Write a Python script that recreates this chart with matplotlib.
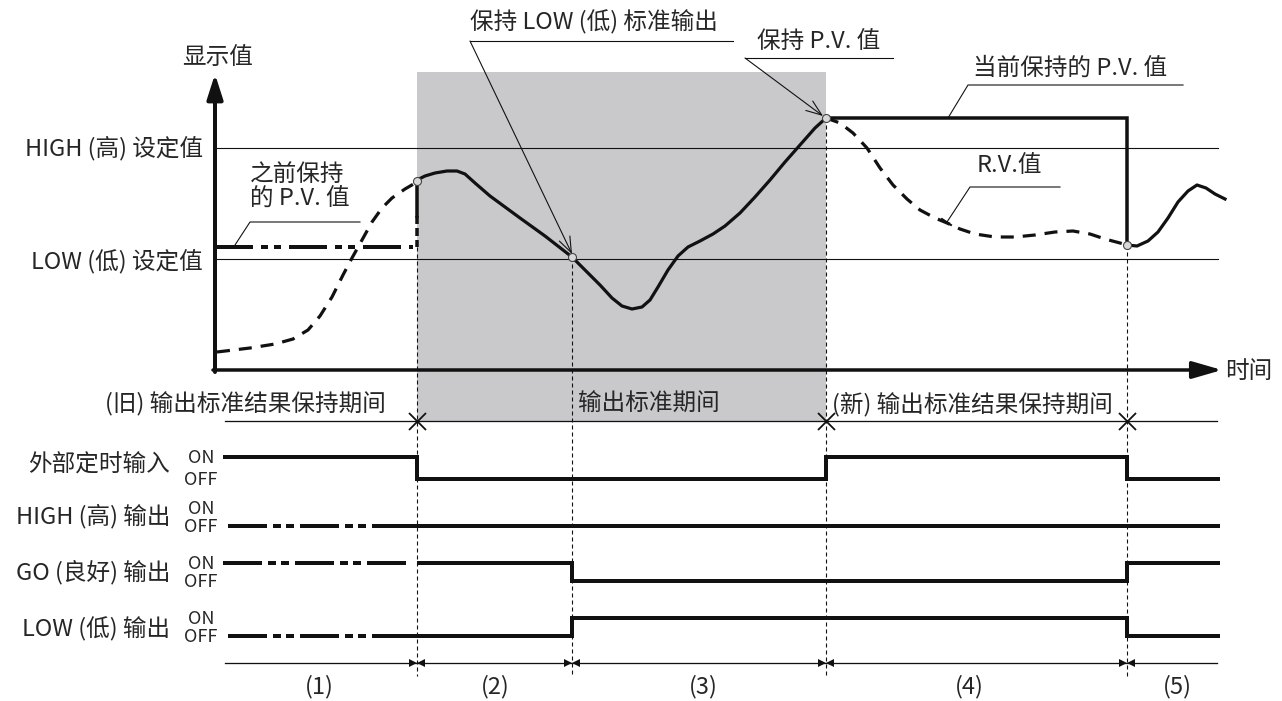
import matplotlib
matplotlib.use("Agg")
import matplotlib.pyplot as plt
from matplotlib.patches import Rectangle

plt.rcParams['font.family'] = ['Noto Sans CJK SC', 'DejaVu Sans']
plt.rcParams['lines.scale_dashes'] = False

# ---------------- data (drawing units = reference pixels) ----------------
EDGES = [417, 572, 826, 1127]          # timing boundaries
X_LEFT, X_RIGHT = 223, 1220
AXIS_X, AXIS_Y = 215, 370
HIGH_SET_Y, LOW_SET_Y = 148, 259
HELD_PREV_Y = 247
HELD_NOW_Y = 118

rv_before_x = [217, 250, 275, 293, 308, 320, 332, 343, 352, 362, 372, 382, 392, 405, 417]
rv_before_y = [352, 348, 344, 339, 330, 316, 297, 275, 258, 240, 222, 208, 198, 189, 182]

pv_x = [417, 425, 435, 447, 457, 465, 475, 490, 505, 520, 545, 572, 585, 600, 612, 622,
        632, 642, 650, 658, 668, 678, 688, 700, 713, 725, 740, 755, 770, 785, 800, 815, 826]
pv_y = [180, 176, 173, 171, 171, 174, 183, 196, 207, 218, 236, 257, 270, 285, 298, 306,
        309, 307, 300, 287, 270, 256, 247, 241, 234, 226, 213, 197, 180, 162, 145, 128, 118]

rv_after_x = [826, 840, 853, 867, 880, 893, 907, 920, 935, 947, 960, 975, 995, 1015, 1035,
              1055, 1073, 1090, 1105, 1120, 1127]
rv_after_y = [118, 123, 133, 148, 168, 185, 199, 210, 218, 223, 229, 234, 237, 237, 235,
              232, 231, 234, 239, 243, 245]

pv_final_x = [1127, 1137, 1148, 1158, 1168, 1178, 1188, 1197, 1206, 1215, 1225]
pv_final_y = [245, 246, 241, 232, 218, 202, 191, 185, 188, 194, 199]

hold_points_x = [417, 572, 826, 1127]
hold_points_y = [181, 257, 118, 245]

row_labels = ['外部定时输入', 'HIGH (高) 输出', 'GO (良好) 输出', 'LOW (低) 输出']
row_label_y = [465, 516, 572, 629]
row_on_y = [457, 508, 563, 618]
row_off_y = [479, 526, 581, 636]
row_states = [[1, 0, 0, 1, 0],
              [0, 0, 0, 0, 0],
              [1, 1, 0, 0, 1],
              [0, 0, 1, 1, 0]]
row_unknown_start = [None, 228, 223, 228]
row_unknown_end = [None, 372, 412, 372]

period_labels = ['(1)', '(2)', '(3)', '(4)', '(5)']
period_label_x = [319, 495, 703, 969, 1177]

phase_labels = ['(旧) 输出标准结果保持期间', '输出标准期间', '(新) 输出标准结果保持期间']

TXT = '#262626'
INK = '#111111'
GRAY = '#c9c9cb'

def px(v):
    return v * 0.72

fig = plt.figure(figsize=(12.82, 7.01), dpi=100)
ax = fig.add_axes([0, 0, 1, 1])
ax.set_xlim(0, 1282)
ax.set_ylim(701, 0)
ax.axis('off')

# gray output-judgement period
ax.add_patch(Rectangle((EDGES[0], 72), EDGES[2] - EDGES[0], 421 - 72,
                       facecolor=GRAY, edgecolor='none', zorder=0))

# set-value lines
ax.plot([AXIS_X, 1218], [HIGH_SET_Y, HIGH_SET_Y], color=INK, lw=px(1.1), zorder=2)
ax.plot([AXIS_X, 1218], [LOW_SET_Y, LOW_SET_Y], color=INK, lw=px(1.1), zorder=2)

# axes with arrows
ax.annotate('', xy=(AXIS_X, 74), xytext=(AXIS_X, AXIS_Y + 2),
            arrowprops=dict(arrowstyle='-|>,head_length=0.75,head_width=0.24', lw=px(4),
                            color=INK, mutation_scale=20, shrinkA=0, shrinkB=0), zorder=5)
ax.annotate('', xy=(1222, AXIS_Y), xytext=(AXIS_X - 2, AXIS_Y),
            arrowprops=dict(arrowstyle='-|>,head_length=0.9,head_width=0.26', lw=px(3.5),
                            color=INK, mutation_scale=20, shrinkA=0, shrinkB=0), zorder=5)

# vertical dotted boundary lines
tops = [HELD_PREV_Y, hold_points_y[1], hold_points_y[2], hold_points_y[3]]
for x, t in zip(EDGES, tops):
    ax.plot([x, x], [t, 676], color=INK, lw=px(1.1), dashes=(px(4), px(3)), zorder=3)

# R.V. dashed curves
ax.plot(rv_before_x, rv_before_y, color=INK, lw=px(3.2), dashes=(px(13), px(9)), zorder=4)
ax.plot(rv_after_x, rv_after_y, color=INK, lw=px(3.2), dashes=(px(13), px(9)), zorder=4)

# P.V. solid curves
ax.plot(pv_x, pv_y, color=INK, lw=px(3.2), zorder=4, solid_joinstyle='round')
ax.plot(pv_final_x, pv_final_y, color=INK, lw=px(3.2), zorder=4, solid_joinstyle='round')

# previously held P.V. (dash-dot-dot) and jump
ax.plot([AXIS_X, 413], [HELD_PREV_Y, HELD_PREV_Y], color=INK, lw=px(4),
        dashes=(px(38), px(8), px(7), px(6), px(7), px(8)), zorder=4)
ax.plot([EDGES[0], EDGES[0]], [hold_points_y[0], 216], color=INK, lw=px(3.5), zorder=4)
ax.plot([EDGES[0], EDGES[0]], [216, HELD_PREV_Y], color=INK, lw=px(3.5),
        dashes=(px(8), px(4)), zorder=4)

# currently held P.V.
ax.plot([EDGES[2], EDGES[3], EDGES[3]], [HELD_NOW_Y, HELD_NOW_Y, hold_points_y[3]],
        color=INK, lw=px(3.5), zorder=4, solid_joinstyle='miter')

# hold point circles
ax.plot(hold_points_x, hold_points_y, 'o', ms=px(8), mfc='#d8d8d8', mec='#444444',
        mew=px(1.1), zorder=6)

# annotation leaders
ax.plot([235, 250, 360], [245, 222, 222], color=INK, lw=px(1.1), zorder=5)
ax.plot([948, 968, 1183], [118, 85, 85], color=INK, lw=px(1.1), zorder=5)
ax.plot([947, 970, 1060], [222, 187, 187], color=INK, lw=px(1.1), zorder=5)
ax.plot([942, 951], [219, 225], color=INK, lw=px(2), zorder=5)
ax.plot([470, 733], [41, 41], color=INK, lw=px(1.1), zorder=5)
ax.plot([745, 893], [58, 58], color=INK, lw=px(1.1), zorder=5)
ax.annotate('', xy=(572, 254), xytext=(470, 41),
            arrowprops=dict(arrowstyle='->,head_length=0.8,head_width=0.3', lw=px(1.1),
                            color=INK, mutation_scale=14, shrinkA=0, shrinkB=0), zorder=6)
ax.annotate('', xy=(823, 116), xytext=(745, 58),
            arrowprops=dict(arrowstyle='->,head_length=0.8,head_width=0.3', lw=px(1.1),
                            color=INK, mutation_scale=14, shrinkA=0, shrinkB=0), zorder=6)

FS = 17
ax.text(218, 57, '显示值', fontsize=FS, color=TXT, ha='center', va='center')
ax.text(203, 148, 'HIGH (高) 设定值', fontsize=FS, color=TXT, ha='right', va='center')
ax.text(203, 262, 'LOW (低) 设定值', fontsize=FS, color=TXT, ha='right', va='center')
ax.text(250, 174, '之前保持', fontsize=FS, color=TXT, ha='left', va='center')
ax.text(250, 199, '的 P.V. 值', fontsize=FS, color=TXT, ha='left', va='center')
ax.text(470, 22, '保持 LOW (低) 标准输出', fontsize=FS, color=TXT, ha='left', va='center')
ax.text(757, 41, '保持 P.V. 值', fontsize=FS, color=TXT, ha='left', va='center')
ax.text(973, 68, '当前保持的 P.V. 值', fontsize=FS, color=TXT, ha='left', va='center')
ax.text(977, 166, 'R.V.值', fontsize=FS, color=TXT, ha='left', va='center')
ax.text(1225, 372, '时间', fontsize=FS, color=TXT, ha='left', va='center')

# phase divider line with X marks
ax.plot([225, 1217], [421, 421], color=INK, lw=px(1.3), zorder=3)
ax.plot([EDGES[0], EDGES[2], EDGES[3]], [421] * 3, 'x', ms=px(17), mew=px(1.8),
        color=INK, zorder=5)
ax.text(386, 404, phase_labels[0], fontsize=FS, color=TXT, ha='right', va='center')
ax.text(578, 404, phase_labels[1], fontsize=FS, color=TXT, ha='left', va='center')
ax.text(832, 404, phase_labels[2], fontsize=FS, color=TXT, ha='left', va='center')

# timing rows
bounds = [X_LEFT] + EDGES + [X_RIGHT]
for i in range(len(row_labels)):
    on, off = row_on_y[i], row_off_y[i]
    ys = [on if s else off for s in row_states[i]]
    xs_line, ys_line = [], []
    start = bounds[0]
    if row_unknown_start[i] is not None:
        ax.plot([row_unknown_start[i], row_unknown_end[i]], [ys[0], ys[0]], color=INK,
                lw=px(4), dashes=(px(39), px(6), px(8), px(5), px(8), px(6)), zorder=4,
                solid_capstyle='butt', dash_capstyle='butt')
        start = row_unknown_end[i] if row_unknown_end[i] < 400 else EDGES[0]
    xs_line.append(start)
    ys_line.append(ys[0])
    for k in range(len(EDGES)):
        xs_line += [EDGES[k], EDGES[k]]
        ys_line += [ys[k], ys[k + 1]]
    xs_line.append(X_RIGHT)
    ys_line.append(ys[-1])
    ax.plot(xs_line, ys_line, color=INK, lw=px(4), zorder=4, solid_joinstyle='miter',
            solid_capstyle='butt')
    ax.text(170, row_label_y[i], row_labels[i], fontsize=FS, color=TXT, ha='right', va='center')
    ax.text(201, on + 1, 'ON', fontsize=13, color=TXT, ha='center', va='center')
    ax.text(201, off + 1, 'OFF', fontsize=13, color=TXT, ha='center', va='center')

# period scale
ax.plot([225, 1217], [663, 663], color=INK, lw=px(1.3), zorder=3)
for x in EDGES:
    ax.plot([x - 4], [663], marker='>', ms=px(8), color=INK, mew=0, zorder=5)
    ax.plot([x + 4], [663], marker='<', ms=px(8), color=INK, mew=0, zorder=5)
for lab, x in zip(period_labels, period_label_x):
    ax.text(x, 687, lab, fontsize=FS, color=TXT, ha='center', va='center')

fig.savefig('out.png', dpi=100, facecolor='white')
